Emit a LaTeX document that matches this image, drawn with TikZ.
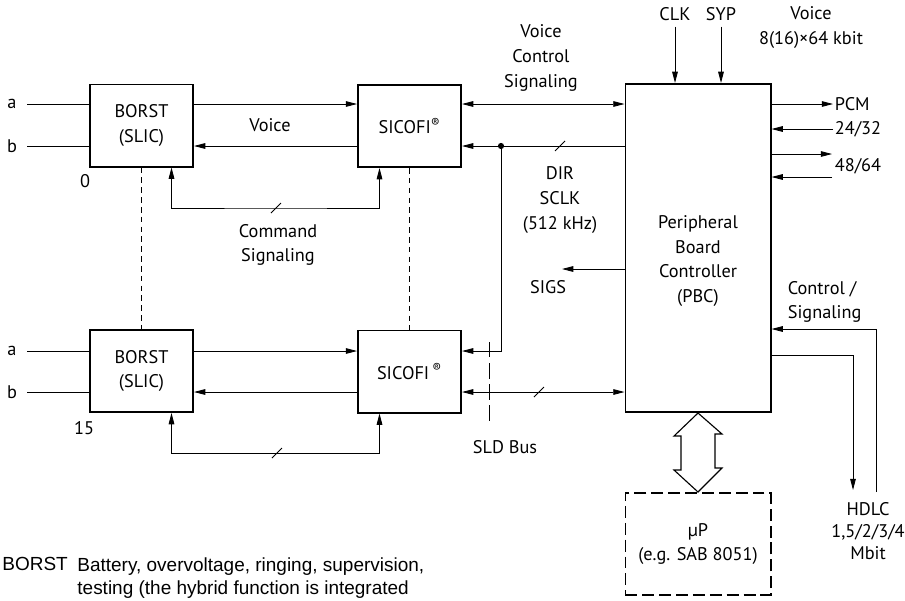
\documentclass[tikz,border=0pt]{standalone}
\usepackage{fontspec}
\setmainfont{PT Sans}
\newfontfamily\notefont{Liberation Sans}
\usetikzlibrary{arrows.meta,calc}
\newcommand\busmark[1]{\draw (#1) ++(-5,5) -- ++(10,-10);}

\begin{document}
\begin{tikzpicture}[x=0.025cm,y=-0.025cm,line width=0.6pt,
      font=\fontsize{13}{17.6}\selectfont,
      >={Triangle[length=8pt,width=4pt]},
      blk/.style={draw,line width=1.4pt,minimum width=2.575cm,
                  minimum height=2.05cm,inner sep=0pt,align=center},
      lbl/.style={inner sep=1pt,align=center},
      tie/.style={dash pattern=on 4pt off 3pt,line width=0.5pt},
      key/.style={anchor=north west,inner sep=0pt,align=left,
                  font=\notefont\fontsize{13.5}{16.5}\selectfont}]
    \useasboundingbox (0,0) rectangle (905,600);

    % line circuits 0 and 15
    \node[blk] (b0) at (141.5,125.5) {BORST\\(SLIC)};
    \node[blk] (s0) at (409.5,126) {SICOFI\textsuperscript{\textregistered}};
    \node[blk] (b15) at (141.5,371) {BORST\\(SLIC)};
    \node[blk] (s15) at (409.5,371.5) {SICOFI\,\textsuperscript{\textregistered}};
    \draw[tie] (b0.south) -- (b15.north);
    \draw[tie] (s0.south) -- (s15.north);

    \path (0,104) coordinate (ya0) (0,146) coordinate (yb0)
          (0,351) coordinate (ya15) (0,392) coordinate (yb15);
    \node[lbl] (la0) at (12,104) {a};
    \node[lbl] (lb0) at (12,146) {b};
    \node[lbl] (la15) at (12,351) {a};
    \node[lbl] (lb15) at (12,392) {b};
    \node[lbl] (n0) at (85,181) {0};
    \node[lbl] (n15) at (84,428) {15};
    \draw (27,0 |- ya0) -- (b0.west |- ya0);
    \draw (27,0 |- yb0) -- (b0.west |- yb0);
    \draw (27,0 |- ya15) -- (b15.west |- ya15);
    \draw (27,0 |- yb15) -- (b15.west |- yb15);

    \draw[->] (b0.east |- ya0) -- (s0.west |- ya0);
    \draw[<-] (b0.east |- yb0) -- (s0.west |- yb0);
    \draw[->] (b15.east |- ya15) -- (s15.west |- ya15);
    \draw[<-] (b15.east |- yb15) -- (s15.west |- yb15);
    \node[lbl] (voice) at (270,125) {Voice};

    % command signaling
    \coordinate (cm0) at (276,208);
    \coordinate (cm15) at (277,453);
    \draw[<->] ([xshift=0.75cm]b0.south) |- (cm0) -| ([xshift=-0.75cm]s0.south);
    \draw[<->] ([xshift=0.75cm]b15.south) |- (cm15) -| ([xshift=-0.75cm]s15.south);
    \busmark{cm0} \busmark{cm15}
    \node[lbl] (cmd) at (278,245) {Command\\Signaling};

    % PBC and SLD bus
    \node[blk,minimum width=3.625cm,minimum height=8.2cm] (pbc) at (698,248) {};
    \node[lbl] (pbct) at (698,261) {Peripheral\\Board\\Controller\\(PBC)};
    \node[lbl] (vcs) at (541,58) {Voice\\Control\\Signaling};
    \node[lbl] (dir) at (560,200) {DIR\\SCLK\\(512 kHz)};
    \coordinate (jn) at (501,146);
    \draw[<->] (s0.east |- ya0) -- (pbc.west |- ya0);
    \draw[<-] (s0.east |- jn) -- (pbc.west |- jn);
    \fill (jn) circle (2.2pt);
    \draw[->] (jn) |- (s15.east |- ya15);
    \draw[<->] (s15.east |- yb15) -- (pbc.west |- yb15);
    \busmark{560,146} \busmark{539,392}
    \coordinate (sld1) at (489,342);
    \coordinate (sld2) at (489,422);
    \draw[dash pattern=on 11pt off 4pt,line width=0.7pt] (sld1) -- (sld2);
    \node[lbl] (sldl) at (505,447) {SLD Bus};
    \coordinate (sigend) at (562,269);
    \draw[->] (pbc.west |- sigend) -- (sigend);
    \node[lbl] (sigs) at (548,287) {SIGS};

    % clocks and PCM highways
    \node[lbl] (clk) at (675,14) {CLK};
    \node[lbl] (syp) at (721,14) {SYP};
    \draw[->] ([yshift=-3pt]clk.south) -- (clk.south |- pbc.north);
    \draw[->] ([yshift=-3pt]syp.south) -- (syp.south |- pbc.north);
    \node[lbl] (pcmv) at (811,27.5) {Voice\\8(16)×64 kbit};
    \node[lbl,anchor=west] (pcm) at (833,104) {PCM};
    \node[lbl,anchor=west] (p24) at (833,129) {24/32};
    \node[lbl,anchor=west] (p48) at (833,166) {48/64};
    \coordinate (out2) at (832,154);
    \coordinate (in2) at (832,177);
    \draw[->] (pbc.east |- pcm.west) -- (pcm.west);
    \draw[->] (p24.west) -- (p24.west -| pbc.east);
    \draw[->] (pbc.east |- out2) -- (out2);
    \draw[->] (in2) -- (in2 -| pbc.east);

    % HDLC
    \coordinate (yctl) at (0,329);
    \coordinate (yhd) at (0,355);
    \coordinate (hin) at (876,492);
    \coordinate (hout) at (853,490);
    \draw[->] (hin) |- (yctl -| pbc.east);
    \draw[->] (pbc.east |- yhd) -| (hout);
    \node[lbl,anchor=west,align=left] (ctll) at (786,302) {Control /\\Signaling};
    \node[lbl,font=\fontsize{13}{15.5}\selectfont] (hdlc) at (868,531) {HDLC\\1,5/2/3/4\\Mbit};

    % microprocessor
    \node[blk,dash pattern=on 8.5pt off 3.5pt,minimum width=3.625cm,
          minimum height=2.55cm] (up) at (698,544) {µP\\(e.g. SAB 8051)};
    \draw[line width=0.8pt] (pbc.south) -- ++(-24,23) -- ++(7,0) -- ++(0,34)
      -- ++(-7,0) -- (up.north) -- ++(24,-24) -- ++(-7,0) -- ++(0,-34)
      -- ++(7,0) -- cycle;

    % key
    \node[key] (keyk) at (2,557) {BORST};
    \node[key] (keyt) at (77,557)
      {Battery, overvoltage, ringing, supervision,\\testing (the hybrid function is integrated};
  \end{tikzpicture}
\end{document}
